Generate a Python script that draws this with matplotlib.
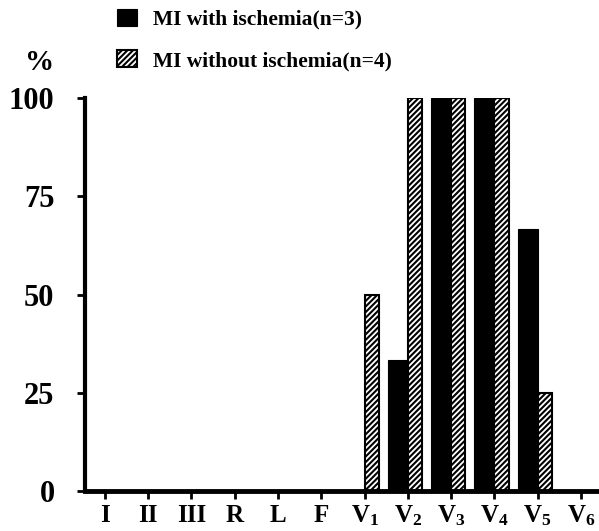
import numpy as np
import matplotlib
matplotlib.use("Agg")
import matplotlib.pyplot as plt

plt.rcParams['font.family'] = ['Liberation Serif', 'DejaVu Serif']
plt.rcParams['font.weight'] = 'bold'
plt.rcParams['mathtext.fontset'] = 'custom'
plt.rcParams['mathtext.rm'] = 'Liberation Serif:bold'
plt.rcParams['mathtext.it'] = 'Liberation Serif:bold'
plt.rcParams['mathtext.bf'] = 'Liberation Serif:bold'
plt.rcParams['hatch.linewidth'] = 1.5

# leads and percentages
leads = ['I', 'II', 'III', 'R', 'L', 'F',
         '$V_1$', '$V_2$', '$V_3$', '$V_4$', '$V_5$', '$V_6$']
with_ischemia = [0, 0, 0, 0, 0, 0, 0, 33.3, 100, 100, 66.7, 0]
without_ischemia = [0, 0, 0, 0, 0, 0, 50, 100, 100, 100, 25, 0]
y_ticks = [0, 25, 50, 75, 100]

fig = plt.figure(figsize=(5.99, 5.31), dpi=100)
ax = fig.add_axes([0.142, 0.0753, 0.858, 0.740])

x = np.arange(len(leads))
b1 = ax.bar(x, with_ischemia, width=-0.46, align='edge', color='black',
            edgecolor='black', linewidth=0.8, label='MI with ischemia(n=3)')
b2 = ax.bar(x, without_ischemia, width=0.33, align='edge', color='white',
            edgecolor='black', hatch='//////', linewidth=1.5,
            label='MI without ischemia(n=4)')

ax.set_xlim(-0.46, 11.42)
ax.set_ylim(0, 100)
ax.set_xticks(x)
ax.set_xticklabels(leads, fontsize=18, fontweight='bold')
ax.set_yticks(y_ticks)
ax.set_yticklabels([str(v) for v in y_ticks], fontsize=22, fontweight='bold')

for s in ['top', 'right']:
    ax.spines[s].set_visible(False)
ax.spines['left'].set_linewidth(3)
ax.spines['bottom'].set_linewidth(3.5)
ax.tick_params(axis='y', direction='out', length=6, width=2, pad=16)
ax.tick_params(axis='x', direction='out', length=6, width=2, pad=3)

fig.text(0.042, 0.857, '%', fontsize=21, fontweight='bold', ha='left', va='bottom')

fig.legend(handles=[b1, b2], loc='upper left', bbox_to_anchor=(0.181, 1.0),
           frameon=False, prop={'family': 'Liberation Serif', 'weight': 'bold', 'size': 15.5},
           handlelength=0.95, handleheight=0.85, handletextpad=0.72, labelspacing=0.95,
           borderpad=0.1, borderaxespad=0.3)

fig.savefig('out.png', dpi=100, facecolor='w')
